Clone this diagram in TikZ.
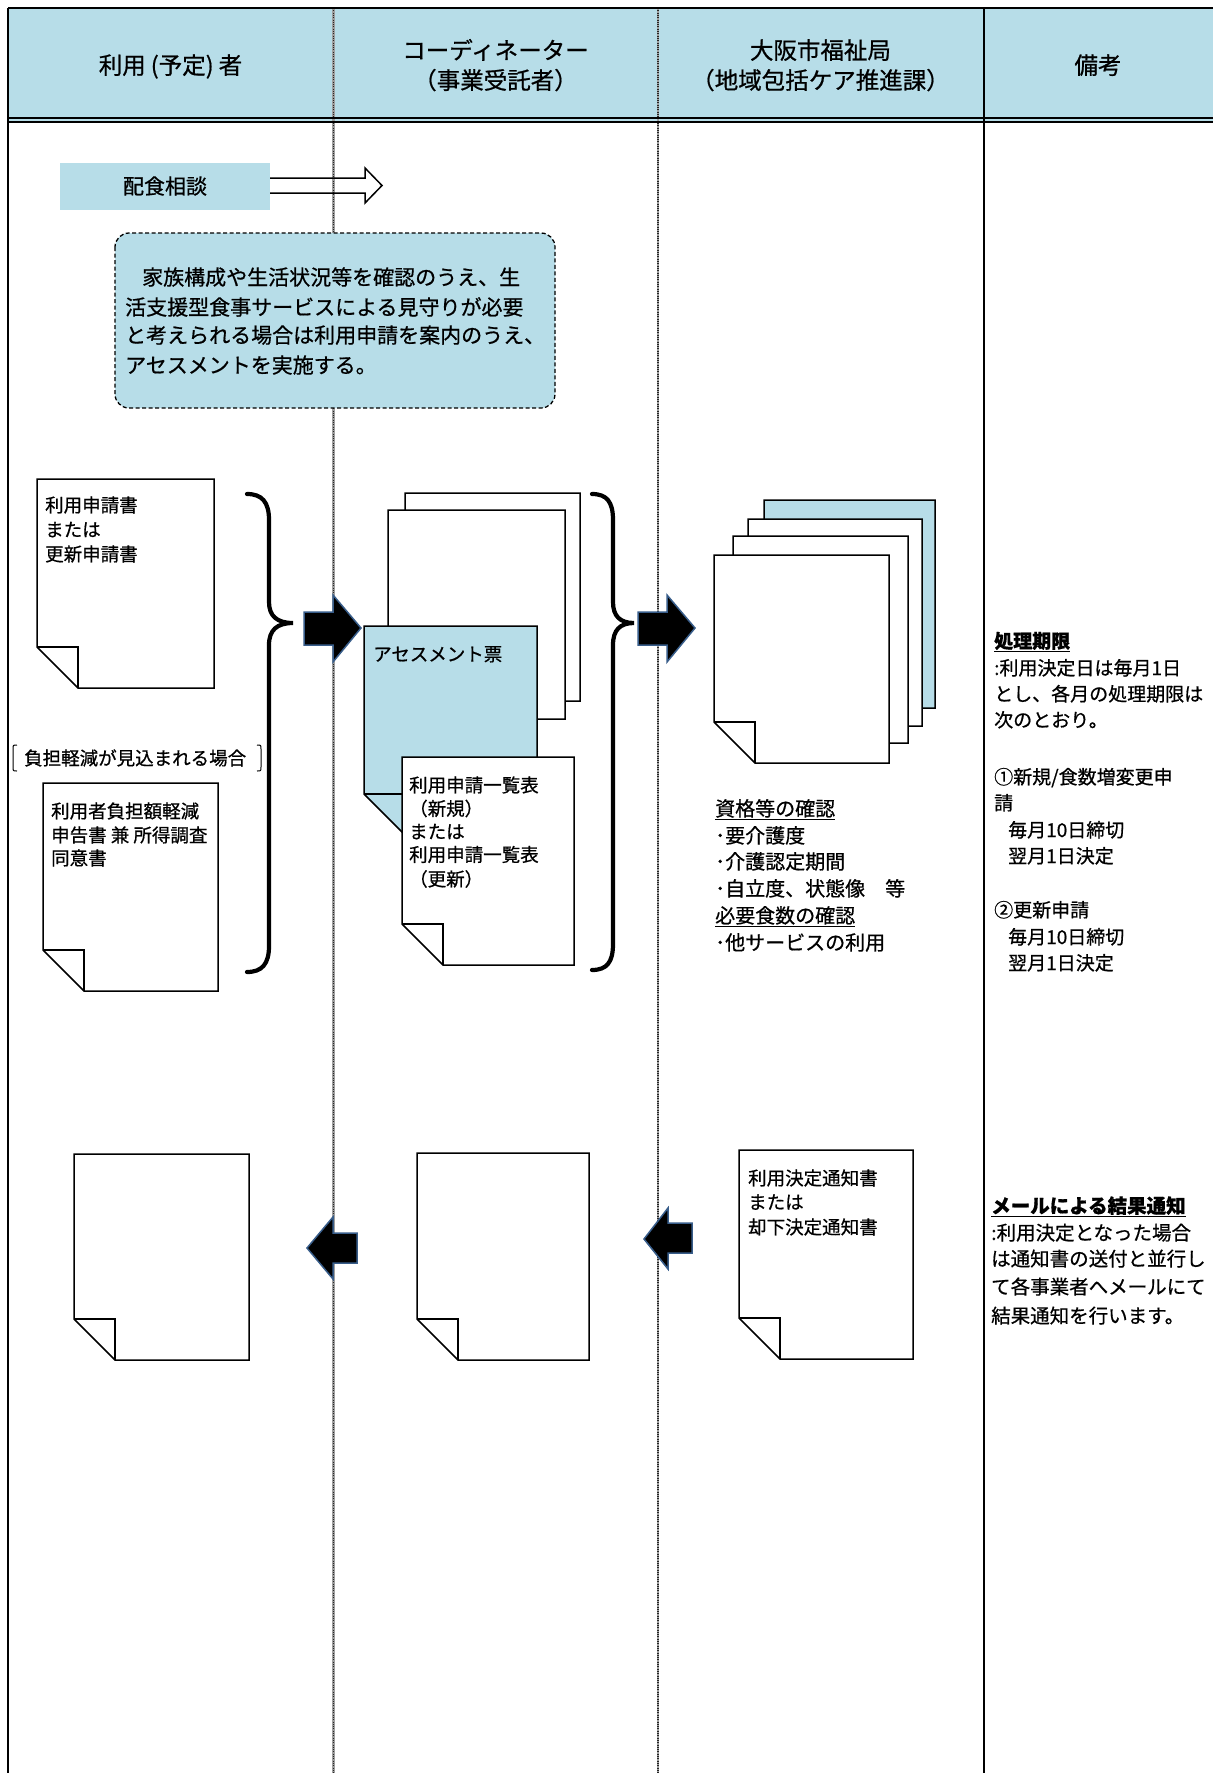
\documentclass[tikz,border=0pt]{standalone}
\usepackage{fontspec}
\setmainfont{Noto Sans CJK JP}[RawFeature={embolden=0.7}]
\definecolor{hdrblue}{RGB}{183,221,232}
\definecolor{arrowedge}{RGB}{56,93,138}
\newcommand{\paperdoc}[6]{%
  \filldraw[docline, fill=#6] (#1,#2) -- (#3,#2) -- (#3,#4) -- ({#1+#5},#4) -- (#1,{#4-#5}) -- cycle;
  \draw[docline] (#1,{#4-#5}) -- ({#1+#5},{#4-#5}) -- ({#1+#5},#4);
}
\begin{document}
\begin{tikzpicture}[x=1pt,y=-1pt,
  docline/.style={draw=black, line width=1.5pt, line join=miter},
  blockarrow/.style={fill=black, draw=arrowedge, line width=1.5pt, line join=miter},
  bracepath/.style={draw=black, line width=4.2pt, line cap=round},
  divgray/.style={draw=gray!75, line width=2.2pt},
  divdots/.style={draw=black!85, line width=1.1pt, dash pattern=on 1pt off 1.3pt},
  hd/.style={inner sep=0pt, anchor=base, font=\fontsize{23.5}{28}\selectfont},
  tx/.style={inner sep=0pt, anchor=base west},
  fa/.style={font=\fontsize{18.5}{22}\selectfont},
  fb/.style={font=\fontsize{20}{24}\selectfont},
  fc/.style={font=\fontsize{19}{23}\selectfont},
  fd/.style={font=\fontsize{19.5}{23}\selectfont},
  fe/.style={font=\fontsize{21}{25}\selectfont},
]
\useasboundingbox (0,0) rectangle (1213,1773);
\fill[white] (0,0) rectangle (1213,1773);
% header
\fill[hdrblue] (8,8) rectangle (1213,122);
% dividers
\draw[divgray] (333.5,8) -- (333.5,1773);
\draw[divdots] (333.5,8) -- (333.5,1773);
\draw[divgray] (658,8) -- (658,1773);
\draw[divdots] (658,8) -- (658,1773);
\draw[line width=2pt] (983.5,8) -- (983.5,1773);
\draw[line width=2pt] (8,117.5) -- (1213,117.5);
\draw[line width=2pt] (8,121.5) -- (1213,121.5);
\draw[line width=2.2pt] (8,8) -- (1213,8);
\draw[line width=2.2pt] (8,8) -- (8,1773);
% header texts
\node[hd] (h1) at (170.5,74) {利用\hspace{5pt}(予定)\hspace{5pt}者};
\node[hd] (h2a) at (495.5,59) {コーディネーター};
\node[hd] (h2b) at (495.5,89) {（事業受託者）};
\node[hd] (h3a) at (820.5,59) {大阪市福祉局};
\node[hd] (h3b) at (820.5,89) {（地域包括ケア推進課）};
\node[hd] (h4) at (1098,74) {備考};
% soudan
\fill[hdrblue] (60,163) rectangle (270,210);
\node[fe, inner sep=0pt, anchor=base] (soudan) at (165,194) {配食相談};
\draw[line width=1.5pt, line join=miter] (270,178) -- (365,178) -- (365,168) -- (382,185.5) -- (365,203) -- (365,193) -- (270,193);
% dashed box
\filldraw[fill=hdrblue, draw=black, line width=1.3pt, dash pattern=on 4pt off 2.5pt, rounded corners=14pt] (115,233) rectangle (555,408);
\node[tx,fe] (k1) at (142,285) {家族構成や生活状況等を確認のうえ、生};
\node[tx,fe] (k2) at (125,315) {活支援型食事サービスによる見守りが必要};
\node[tx,fe] (k3) at (125,343) {と考えられる場合は利用申請を案内のうえ、};
\node[tx,fe] (k4) at (125,373) {アセスメントを実施する。};
% column 1 documents
\paperdoc{37}{479}{214}{688}{41}{white}
\node[tx,fa] (a1) at (45,512) {利用申請書};
\node[tx,fa] (a2) at (45,536.5) {または};
\node[tx,fa] (a3) at (45,561) {更新申請書};
\draw[line width=1pt] (17,745) .. controls (13,745) .. (13,749) -- (13,767) .. controls (13,771) .. (17,771);
\draw[line width=1pt] (257,745) .. controls (261,745) .. (261,749) -- (261,767) .. controls (261,771) .. (257,771);
\node[tx,fa] (futan) at (24,765) {負担軽減が見込まれる場合};
\paperdoc{43}{783}{218}{991}{41}{white}
\node[tx,fa] (b1) at (51,818) {利用者負担額軽減};
\node[tx,fa] (b2) at (51,842) {申告書 兼 所得調査};
\node[tx,fa] (b3) at (51,865) {同意書};
% brace 1
\draw[bracepath] (247,494) .. controls (262,494) and (269,502) .. (269,520) -- (269,602) .. controls (269,616) and (277,623) .. (293,623) .. controls (277,623) and (269,630) .. (269,645) -- (269,946) .. controls (269,964) and (262,972) .. (247,972);
% arrow 1
\filldraw[blockarrow] (304,612) -- (333,612) -- (333,595) -- (361,628) -- (333,662) -- (333,645) -- (304,645) -- cycle;
% column 2 documents
\paperdoc{405}{493}{580}{701}{41}{white}
\paperdoc{388}{510}{565}{719}{41}{white}
\paperdoc{364}{626}{537}{835}{41}{hdrblue}
\node[tx,fa] (as) at (373,661) {アセスメント票};
\paperdoc{402}{757}{574}{965}{41}{white}
\node[tx,fa] (c1) at (409,792) {利用申請一覧表};
\node[tx,fa] (c2) at (409,815.5) {（新規）};
\node[tx,fa] (c3) at (409,838.5) {または};
\node[tx,fa] (c4) at (409,861.5) {利用申請一覧表};
\node[tx,fa] (c5) at (409,886) {（更新）};
% brace 2
\draw[bracepath] (592,494) .. controls (607,494) and (613,502) .. (613,520) -- (613,602) .. controls (613,616) and (620,623) .. (634,623) .. controls (620,623) and (613,630) .. (613,645) -- (613,944) .. controls (613,962) and (607,970) .. (592,970);
% arrow 2
\filldraw[blockarrow] (638,612) -- (667,612) -- (667,595) -- (695,628) -- (667,662) -- (667,645) -- (638,645) -- cycle;
% column 3 documents
\paperdoc{764}{500}{935}{708}{41}{hdrblue}
\paperdoc{748}{519}{922}{726}{41}{white}
\paperdoc{733}{536}{908}{743}{41}{white}
\paperdoc{714}{555}{889}{763}{41}{white}
\node[tx,fb] (d1) at (715,816) {\underline{資格等の確認}};
\node[tx,fb] (d2) at (715,843) {･要介護度};
\node[tx,fb] (d3) at (715,869) {･介護認定期間};
\node[tx,fb] (d4) at (715,896) {･自立度、状態像　等};
\node[tx,fb] (d5) at (715,923) {\underline{必要食数の確認}};
\node[tx,fb] (d6) at (715,950) {･他サービスの利用};
% column 4 notes
\node[tx,fc] (e1) at (994,648) {\textbf{\underline{処理期限}}};
\node[tx,fc] (e2) at (994,675) {:利用決定日は毎月1日};
\node[tx,fc] (e3) at (994,701) {とし、各月の処理期限は};
\node[tx,fc] (e4) at (994,727) {次のとおり。};
\node[tx,fc] (e5) at (994,784) {①新規/食数増変更申};
\node[tx,fc] (e6) at (994,810) {請};
\node[tx,fc] (e7) at (1008,837) {毎月10日締切};
\node[tx,fc] (e8) at (1008,863) {翌月1日決定};
\node[tx,fc] (e9) at (994,917) {②更新申請};
\node[tx,fc] (e10) at (1008,944) {毎月10日締切};
\node[tx,fc] (e11) at (1008,970) {翌月1日決定};
% bottom row
\paperdoc{74}{1154}{249}{1360}{41}{white}
\paperdoc{417}{1153}{589}{1360}{41}{white}
\paperdoc{739}{1150}{913}{1359}{41}{white}
\node[tx,fa] (r1) at (748,1185) {利用決定通知書};
\node[tx,fa] (r2) at (748,1209) {または};
\node[tx,fa] (r3) at (748,1234) {却下決定通知書};
\filldraw[blockarrow] (307,1248) -- (333,1217) -- (333,1233) -- (357,1233) -- (357,1263) -- (333,1263) -- (333,1279) -- cycle;
\filldraw[blockarrow] (644,1239) -- (668,1208) -- (668,1223) -- (692,1223) -- (692,1253) -- (668,1253) -- (668,1269) -- cycle;
\node[tx,fd] (m1) at (991,1213) {\textbf{\underline{メールによる結果通知}}};
\node[tx,fd] (m2) at (991,1240) {:利用決定となった場合};
\node[tx,fd] (m3) at (991,1266) {は通知書の送付と並行し};
\node[tx,fd] (m4) at (991,1294) {て各事業者へメールにて};
\node[tx,fd] (m5) at (991,1323) {結果通知を行います。};
\end{tikzpicture}
\end{document}
